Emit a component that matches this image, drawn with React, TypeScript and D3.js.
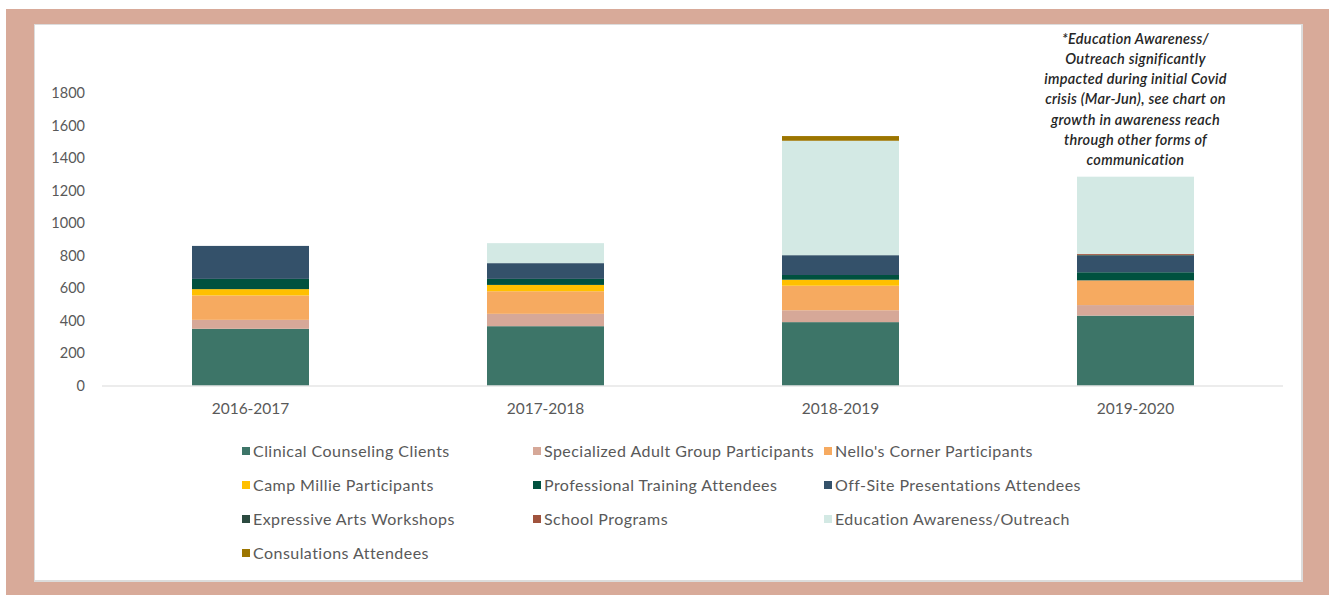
import React, { useEffect } from "react";
import * as d3 from "d3";

const years = ["2016-2017", "2017-2018", "2018-2019", "2019-2020"];
const seriesNames = [
  "Clinical Counseling Clients",
  "Specialized Adult Group Participants",
  "Nello's Corner Participants",
  "Camp Millie Participants",
  "Professional Training Attendees",
  "Off-Site Presentations Attendees",
  "Expressive Arts Workshops",
  "School Programs",
  "Education Awareness/Outreach",
  "Consulations Attendees",
];
const seriesColors = [
  "#3d7568", "#d6a898", "#f6aa60", "#ffc000", "#00513f",
  "#34516a", "#2b4a40", "#a0533d", "#d3e9e4", "#9c7500",
];
const clinical = [349, 365, 390, 430];
const specialized = [55, 76, 73, 65];
const nellos = [150, 139, 151, 152];
const campMillie = [39, 39, 37, 0];
const professional = [63, 37, 29, 50];
const offSite = [203, 97, 122, 102];
const expressive = [0, 0, 0, 5];
const school = [0, 0, 0, 6];
const education = [0, 123, 704, 475];
const consultations = [0, 0, 29, 0];
const yTicks = [0, 200, 400, 600, 800, 1000, 1200, 1400, 1600, 1800];
const noteLines = [
  "*Education Awareness/",
  "Outreach  significantly",
  "impacted during initial Covid",
  "crisis (Mar-Jun), see chart on",
  "growth in awareness reach",
  "through other forms of",
  "communication",
];

const seriesValues = [clinical, specialized, nellos, campMillie, professional, offSite, expressive, school, education, consultations];

export default function App() {
  useEffect(() => {
    document.body.style.margin = "0";
  }, []);

  const W = 1329, H = 595;
  const x = d3.scaleBand<string>().domain(years).range([103, 1283]).paddingInner(0.6034).paddingOuter(0.3017);
  const y = d3.scaleLinear().domain([0, 1800]).range([385.5, 93]);

  const table = years.map((yr, i) => {
    const row: any = { year: yr };
    seriesNames.forEach((n, k) => (row[n] = seriesValues[k][i]));
    return row;
  });
  const stacked = d3.stack<any>().keys(seriesNames)(table);

  const font = "Lato, 'Open Sans', sans-serif";
  const legendCols = [242, 533, 824];
  const legendRows = [451, 485, 519, 553];

  return (
    <svg width={W} height={H} style={{ display: "block" }} fontFamily={font}>
      <rect x={0} y={0} width={W} height={H} fill="#ffffff" />
      <rect x={6} y={9} width={W - 6} height={H - 9} fill="#d8aa99" />
      <rect x={34} y={24} width={1269} height={558} fill="#dcdcdc" />
      <rect x={35} y={25} width={1266} height={555} fill="#ffffff" />

      {yTicks.map((t) => (
        <text key={t} x={85} y={y(t)} dy="0.35em" textAnchor="end" fontSize={14.5} fill="#595959">
          {t}
        </text>
      ))}

      {stacked.map((s, k) => (
        <g key={s.key} fill={seriesColors[k]}>
          {s.map((d, i) =>
            d[1] - d[0] > 0 ? (
              <rect
                key={i}
                x={x(d.data.year)}
                y={y(d[1])}
                width={x.bandwidth()}
                height={y(d[0]) - y(d[1])}
              />
            ) : null
          )}
        </g>
      ))}

      <line x1={102} x2={1283} y1={386} y2={386} stroke="#d9d9d9" strokeWidth={1.2} />

      {years.map((yr) => (
        <text key={yr} x={(x(yr) as number) + x.bandwidth() / 2} y={409} dy="0.35em" textAnchor="middle" fontSize={15.5} fill="#595959">
          {yr}
        </text>
      ))}

      {noteLines.map((l, i) => (
        <text key={i} x={(x("2019-2020") as number) + x.bandwidth() / 2} y={38.5 + i * 20.3} dy="0.35em" textAnchor="middle" fontSize={14.5} fontStyle="italic" fontWeight={600} letterSpacing={0.3} fill="#262626">
          {l}
        </text>
      ))}

      {seriesNames.map((n, k) => {
        const cx = legendCols[k % 3];
        const cy = legendRows[Math.floor(k / 3)];
        return (
          <g key={n}>
            <rect x={cx} y={cy - 4} width={8} height={8} fill={seriesColors[k]} />
            <text x={cx + 11} y={cy} dy="0.35em" fontSize={16} letterSpacing={0.45} fill="#595959">
              {n}
            </text>
          </g>
        );
      })}
    </svg>
  );
}
